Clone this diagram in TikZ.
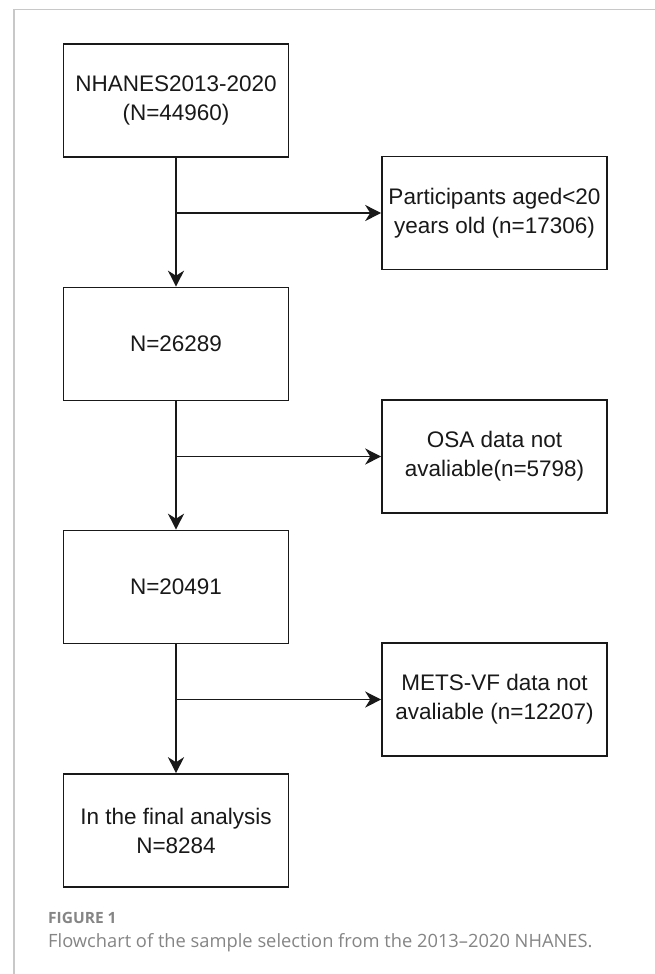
\documentclass[tikz,border=0pt]{standalone}
\usepackage{fontspec}
\setmainfont{Liberation Sans}
\newfontfamily\capfont[Ligatures=TeX]{Open Sans}
\usetikzlibrary{arrows.meta}
\definecolor{framegray}{HTML}{C8C8C8}
\definecolor{capgray}{HTML}{858585}
\begin{document}
\begin{tikzpicture}[x=1pt,y=1pt,
  flowbox/.style={draw=black!90, line width=1.6pt, rectangle, minimum width=225pt, minimum height=113pt,
    align=center, inner sep=2pt, font=\fontsize{22.5}{29}\selectfont, text=black!90},
  arr/.style={line width=1.5pt, draw=black!90, -{Stealth[length=16pt,width=16pt,inset=5pt]}}]
\useasboundingbox (0,0) rectangle (655,-974);
\fill[white] (0,0) rectangle (655,-974);
% card frame
\draw[framegray, line width=1.2pt] (14,-974) -- (14,-9.5) -- (655,-9.5);
% main boxes
\node[flowbox] (b1) at (176,-100.5) {NHANES2013-2020\\(N=44960)};
\node[flowbox] (b2) at (176,-344) {N=26289};
\node[flowbox] (b3) at (176,-587) {N=20491};
\node[flowbox] (b4) at (176,-830.5) {In the final analysis\\N=8284};
% exclusion boxes
\node[flowbox] (r1) at (494.5,-213) {Participants aged<20\\years old (n=17306)};
\node[flowbox] (r2) at (494.5,-456.5) {OSA data not\\avaliable(n=5798)};
\node[flowbox] (r3) at (494.5,-699.5) {METS-VF data not\\avaliable (n=12207)};
% connectors
\draw[arr] (b1) -- (b2);
\draw[arr] (b2) -- (b3);
\draw[arr] (b3) -- (b4);
\draw[arr] (b1.south |- r1.west) -- (r1.west);
\draw[arr] (b2.south |- r2.west) -- (r2.west);
\draw[arr] (b3.south |- r3.west) -- (r3.west);
% caption
\node[anchor=base west, inner sep=0pt, text=capgray, font=\capfont\fontsize{15.5}{18}\selectfont\bfseries] (fig) at (48,-923) {FIGURE 1};
\node[anchor=base west, inner sep=0pt, text=capgray, font=\capfont\fontsize{18.3}{22}\selectfont] (cap) at (48,-947) {Flowchart of the sample selection from the 2013–2020 NHANES.};
\end{tikzpicture}
\end{document}
